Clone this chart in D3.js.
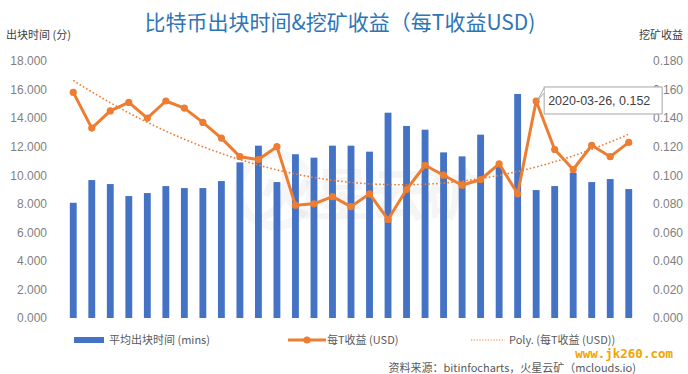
<!DOCTYPE html>
<html>
<head>
<meta charset="utf-8">
<script src="https://cdn.jsdelivr.net/npm/d3@7"></script>
<style>
  html, body { margin: 0; padding: 0; background: #ffffff; }
  svg { display: block; }
  text { font-family: "Liberation Sans", Arial, "Noto Sans CJK SC", sans-serif; }
</style>
</head>
<body>
<svg id="chart" width="688" height="374"></svg>
<script>
// ---- data ----
const dates = ["2019-10-03","2019-10-10","2019-10-17","2019-10-24","2019-10-31","2019-11-07","2019-11-14","2019-11-21","2019-11-28","2019-12-05","2019-12-12","2019-12-19","2019-12-26","2020-01-02","2020-01-09","2020-01-16","2020-01-23","2020-01-30","2020-02-06","2020-02-13","2020-02-20","2020-02-27","2020-03-05","2020-03-12","2020-03-19","2020-03-26","2020-04-02","2020-04-09","2020-04-16","2020-04-23","2020-04-30"];
const blockTime = [8.07, 9.66, 9.38, 8.54, 8.75, 9.24, 9.10, 9.10, 9.59, 10.90, 12.07, 9.52, 11.47, 11.23, 12.07, 12.07, 11.65, 14.38, 13.45, 13.19, 11.60, 11.32, 12.84, 10.60, 15.69, 8.96, 9.24, 10.18, 9.52, 9.73, 9.03];
const revenue = [0.158, 0.133, 0.145, 0.151, 0.140, 0.152, 0.147, 0.137, 0.126, 0.113, 0.111, 0.120, 0.079, 0.080, 0.085, 0.078, 0.087, 0.069, 0.090, 0.107, 0.100, 0.093, 0.097, 0.108, 0.087, 0.152, 0.118, 0.104, 0.121, 0.113, 0.123];
const leftTicks = [0, 2, 4, 6, 8, 10, 12, 14, 16, 18];
const rightTicks = [0, 0.02, 0.04, 0.06, 0.08, 0.10, 0.12, 0.14, 0.16, 0.18];
const titleText = "比特币出块时间&挖矿收益（每T收益USD)";
const legendLabels = ["平均出块时间 (mins)", "每T收益 (USD)", "Poly. (每T收益 (USD))"];
const highlightIndex = 25;

// ---- layout ----
const svg = d3.select("#chart");
const plot = { left: 64, right: 638, top: 61, bottom: 318 };
const blue = "#4472C4", orange = "#ED7D31";

const x = d3.scaleBand().domain(dates).range([plot.left, plot.right]).paddingInner(0.63).paddingOuter(0.315);
const yL = d3.scaleLinear().domain([0, 18]).range([plot.bottom, plot.top]);
const yR = d3.scaleLinear().domain([0, 0.18]).range([plot.bottom, plot.top]);
const cx = d => x(d) + x.bandwidth() / 2;

// faint watermark
svg.append("text").attr("x", 370).attr("y", 215).attr("text-anchor", "middle")
  .attr("font-size", 56).attr("font-weight", "bold").attr("fill", "#000").attr("opacity", 0.035)
  .style("font-family", "'Noto Sans CJK SC', sans-serif").text("火星云矿");
svg.append("circle").attr("cx", 275).attr("cy", 190).attr("r", 36).attr("fill", "none")
  .attr("stroke", "#000").attr("stroke-width", 9).attr("opacity", 0.03);

// title
svg.append("text").attr("x", 340).attr("y", 30).attr("text-anchor", "middle")
  .attr("font-size", 21).attr("fill", "#2E75B6")
  .style("font-family", "'Noto Sans CJK SC', sans-serif").text(titleText);

// axis titles
svg.append("text").attr("x", 6).attr("y", 39).attr("font-size", 11).attr("fill", "#404040")
  .style("font-family", "'Noto Sans CJK SC', sans-serif").text("出块时间 (分)");
svg.append("text").attr("x", 683).attr("y", 39).attr("text-anchor", "end").attr("font-size", 11).attr("fill", "#404040")
  .style("font-family", "'Noto Sans CJK SC', sans-serif").text("挖矿收益");

// axes
const gL = svg.append("g").attr("transform", `translate(${47},0)`)
  .call(d3.axisLeft(yL).tickValues(leftTicks).tickFormat(d3.format(".3f")).tickSize(0).tickPadding(0));
gL.select(".domain").remove();
gL.selectAll("text").attr("font-size", 12).attr("fill", "#7F7F7F").style("font-family", "'Liberation Sans', Arial, sans-serif");

const gR = svg.append("g").attr("transform", `translate(${683},0)`)
  .call(d3.axisLeft(yR).tickValues(rightTicks).tickFormat(d3.format(".3f")).tickSize(0).tickPadding(0));
gR.select(".domain").remove();
gR.selectAll("text").attr("font-size", 12).attr("fill", "#7F7F7F").style("font-family", "'Liberation Sans', Arial, sans-serif");

// bars
svg.append("g").selectAll("rect").data(blockTime).join("rect")
  .attr("x", (d, i) => x(dates[i])).attr("width", x.bandwidth())
  .attr("y", d => yL(d)).attr("height", d => yL(0) - yL(d)).attr("fill", blue);

// polynomial (order 2) least-squares trend of revenue
function polyFit(ys, order) {
  const n = order + 1;
  const A = Array.from({ length: n }, () => new Array(n + 1).fill(0));
  ys.forEach((yv, i) => {
    const xv = i + 1;
    for (let r = 0; r < n; r++) {
      for (let c = 0; c < n; c++) A[r][c] += Math.pow(xv, r + c);
      A[r][n] += yv * Math.pow(xv, r);
    }
  });
  for (let p = 0; p < n; p++) {
    let m = p;
    for (let r = p + 1; r < n; r++) if (Math.abs(A[r][p]) > Math.abs(A[m][p])) m = r;
    [A[p], A[m]] = [A[m], A[p]];
    for (let r = 0; r < n; r++) {
      if (r === p) continue;
      const f = A[r][p] / A[p][p];
      for (let c = p; c <= n; c++) A[r][c] -= f * A[p][c];
    }
  }
  return A.map((row, i) => row[n] / row[i]);
}
const coef = polyFit(revenue, 2);
const trendAt = t => coef.reduce((s, c, k) => s + c * Math.pow(t + 1, k), 0);
const stepPx = x.step();
const trendSamples = d3.range(0, revenue.length - 1 + 1e-9, 0.25);
svg.append("path").datum(trendSamples)
  .attr("d", d3.line().x(t => cx(dates[0]) + t * stepPx).y(t => yR(trendAt(t))))
  .attr("fill", "none").attr("stroke", orange).attr("stroke-width", 1.6).attr("stroke-dasharray", "1.6,2.2");

// revenue line
svg.append("path").datum(revenue)
  .attr("d", d3.line().x((d, i) => cx(dates[i])).y(d => yR(d)))
  .attr("fill", "none").attr("stroke", orange).attr("stroke-width", 3).attr("stroke-linejoin", "round");
svg.append("g").selectAll("circle").data(revenue).join("circle")
  .attr("cx", (d, i) => cx(dates[i])).attr("cy", d => yR(d)).attr("r", 3.6).attr("fill", orange);

// data label callout
const px = cx(dates[highlightIndex]), py = yR(revenue[highlightIndex]);
const bx = px + 8, by = py - 14, bw = 118, bh = 27;
const tip = svg.append("g");
tip.append("rect").attr("x", bx).attr("y", by).attr("width", bw).attr("height", bh)
  .attr("fill", "#fff").attr("stroke", "#A6A6A6").attr("stroke-width", 1);
tip.append("path").attr("d", `M${bx},${by + 1}L${px + 1},${py}L${bx},${by + 6}`)
  .attr("fill", "#fff").attr("stroke", "#A6A6A6").attr("stroke-width", 1);
tip.append("text").attr("x", bx + 4).attr("y", by + 18.5).attr("font-size", 12.5).attr("fill", "#404040")
  .text(`${dates[highlightIndex]}, ${revenue[highlightIndex].toFixed(3)}`);

// legend
const lg = svg.append("g").attr("font-size", 11).attr("fill", "#595959");
const ly = 340;
lg.append("rect").attr("x", 74).attr("y", ly - 3).attr("width", 30).attr("height", 6).attr("fill", blue);
lg.append("text").attr("x", 109).attr("y", ly + 4).attr("fill", "#595959")
  .style("font-family", "'Noto Sans CJK SC', sans-serif").text(legendLabels[0]);
lg.append("line").attr("x1", 288).attr("x2", 326).attr("y1", ly).attr("y2", ly)
  .attr("stroke", orange).attr("stroke-width", 3);
lg.append("circle").attr("cx", 307).attr("cy", ly).attr("r", 3.6).attr("fill", orange);
lg.append("text").attr("x", 327).attr("y", ly + 4).attr("fill", "#595959")
  .style("font-family", "'Noto Sans CJK SC', sans-serif").text(legendLabels[1]);
lg.append("line").attr("x1", 471).attr("x2", 505).attr("y1", ly).attr("y2", ly)
  .attr("stroke", orange).attr("stroke-width", 1.2).attr("stroke-dasharray", "1.2,1.6");
lg.append("text").attr("x", 509).attr("y", ly + 4).attr("fill", "#595959")
  .style("font-family", "'Noto Sans CJK SC', sans-serif").text(legendLabels[2]);

// source + site watermark
svg.append("text").attr("x", 673).attr("y", 358).attr("text-anchor", "end")
  .attr("font-size", 12.5).attr("font-weight", "bold").attr("fill", "#F0A500")
  .style("font-family", "'DejaVu Sans Mono', monospace").text("www.jk260.com");
svg.append("text").attr("x", 636).attr("y", 372).attr("text-anchor", "end")
  .attr("font-size", 11).attr("fill", "#595959")
  .style("font-family", "'Noto Sans CJK SC', sans-serif").text("资料来源：bitinfocharts，火星云矿（mclouds.io)");
</script>
</body>
</html>
